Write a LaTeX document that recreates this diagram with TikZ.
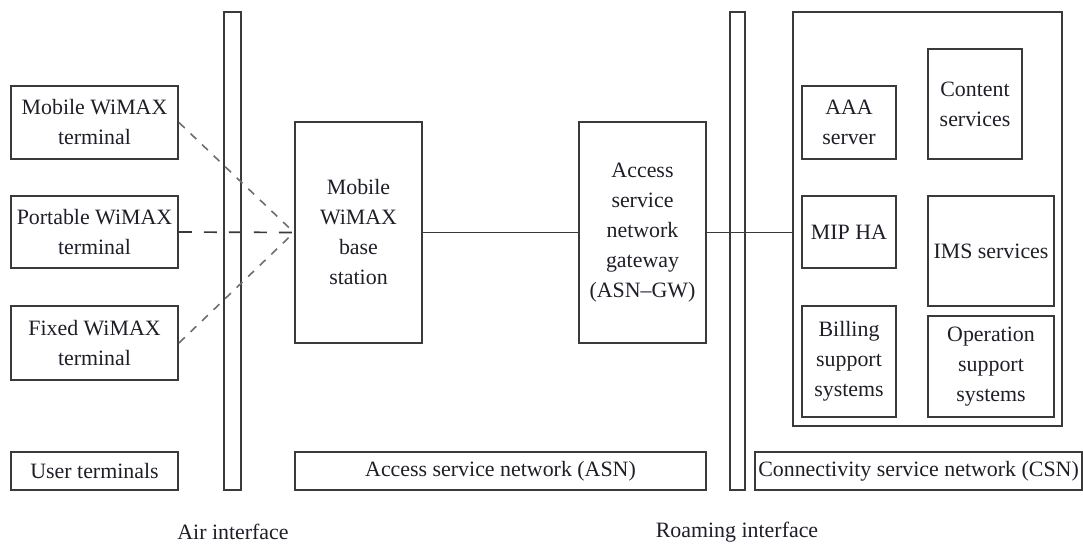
\documentclass[tikz,border=0pt]{standalone}
\usepackage{fontspec}
\setmainfont{Liberation Serif}
\definecolor{linec}{HTML}{3A3A3A}
\definecolor{txtc}{HTML}{1E1E28}
\definecolor{dashc}{HTML}{6E6E6E}
\begin{document}
\begin{tikzpicture}[x=1pt,y=-1pt,
  box/.style={draw=linec, line width=1.9pt, inner sep=0pt, align=center,
    text=txtc, font=\fontsize{21.9}{30}\selectfont},
  bar/.style={draw=linec, line width=1.9pt, inner sep=0pt},
  lbl/.style={text=txtc, inner sep=0pt, font=\fontsize{21.9}{30}\selectfont},
  radiolink/.style={draw=dashc, line width=1.6pt, dash pattern=on 8pt off 8pt},
  fixedlink/.style={draw=linec, line width=1.7pt, dash pattern=on 13pt off 12pt},
  wire/.style={draw=linec, line width=1.7pt}]
\useasboundingbox (0,0) rectangle (1083,545);

% user terminals
\node[box, minimum width=167pt, minimum height=73pt] (mob)  at (94.5,122.5) {Mobile WiMAX\\terminal};
\node[box, minimum width=167pt, minimum height=72pt] (port) at (94.5,232) {Portable WiMAX\\terminal};
\node[box, minimum width=167pt, minimum height=74pt] (fix)  at (94.5,343) {Fixed WiMAX\\terminal};
\node[box, minimum width=167pt, minimum height=38pt] (user) at (94.5,471) {User terminals};

% interface bars
\node[bar, minimum width=17pt, minimum height=478pt] (air)  at (232.5,251) {};
\node[bar, minimum width=15pt, minimum height=478pt] (roam) at (737.5,251) {};

% access service network
\node[box, minimum width=127pt, minimum height=221pt] (bs) at (358.5,232.5) {Mobile\\WiMAX\\base\\station};
\node[box, minimum width=127pt, minimum height=221pt] (gw) at (642.5,232.5) {Access\\service\\network\\gateway\\(ASN–GW)};
\node[box, minimum width=411pt, minimum height=38pt] (asn) at (500.5,471) {Access service network (ASN)};

% connectivity service network
\node[box, minimum width=269pt, minimum height=414pt] (csn) at (927.5,219) {};
\node[box, minimum width=94pt, minimum height=73pt]  (aaa)  at (849,122.5) {AAA\\server};
\node[box, minimum width=94pt, minimum height=110pt] (cont) at (975,104) {Content\\services};
\node[box, minimum width=94pt, minimum height=72pt]  (mip)  at (849,232) {MIP HA};
\node[box, minimum width=126pt, minimum height=110pt] (ims) at (991,251) {IMS services};
\node[box, minimum width=94pt, minimum height=111pt] (bill) at (849,361.5) {Billing\\support\\systems};
\node[box, minimum width=126pt, minimum height=101pt] (oper) at (991,366.5) {Operation\\support\\systems};
\node[box, minimum width=327pt, minimum height=38pt] (csnl) at (918.5,471) {Connectivity service network (CSN)};

% interface labels
\node[lbl] (airl)  at (233,532) {Air interface};
\node[lbl] (roaml) at (737,532) {Roaming interface};

% links
\draw[radiolink] (mob.east) -- (bs.west);
\draw[radiolink] (fix.east) -- (bs.west);
\draw[fixedlink] (port.east) -- (bs.west);
\draw[wire] (bs.east) -- (gw.west);
\draw[wire] (gw.east) -- (gw.east -| csn.west);
\end{tikzpicture}
\end{document}
